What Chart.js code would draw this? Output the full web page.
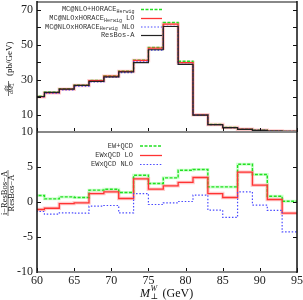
<!DOCTYPE html>
<html><head><meta charset="utf-8">
<script src="https://cdn.jsdelivr.net/npm/chart.js@4/dist/chart.umd.min.js"></script>
<style>html,body{margin:0;padding:0;background:#fff;overflow:hidden}#wrap{position:relative;width:303px;height:300px}</style>
</head><body><div id="wrap"><canvas id="c" width="303" height="300"></canvas></div>
<script>
// ---- data ----
const binEdges = [59,61,63,65,67,69,71,73,75,77,79,81,83,85,87,89,91,93,95];
const xTicks = [60,65,70,75,80,85,90,95];
const topTicks = [10,20,30,40,50,60,70];
const ratioTicks = [-10,-5,0,5,10];

const seriesNames = ['MC@NLO+HORACE', 'MC@NLOxHORACE', 'MC@NLOxHORACE', 'ResBos-A'];
const seriesSuffix = ['', ' LO', ' NLO', ''];
const ratioNames = ['EW+QCD', 'EWxQCD LO', 'EWxQCD NLO'];

const resbosA  = [20.3, 22.6, 24.5, 26.6, 28.9, 31.5, 34.4, 39.6, 47.0, 60.3, 38.7, 9.7, 4.20, 2.50, 1.50, 0.95, 0.55, 0.35];
const nloPlus  = [20.5, 22.8, 24.7, 26.8, 29.4, 32.1, 34.8, 41.1, 48.3, 62.6, 40.4, 9.9, 4.30, 2.55, 1.60, 1.00, 0.56, 0.35];
const nloTimesLO  = [20.1, 22.4, 24.5, 26.6, 29.3, 31.9, 34.6, 40.9, 47.9, 61.7, 39.7, 9.8, 4.25, 2.52, 1.57, 0.97, 0.55, 0.34];
const nloTimesNLO = [20.0, 22.2, 24.1, 26.2, 28.7, 31.3, 33.9, 40.1, 46.8, 60.4, 38.6, 9.7, 4.15, 2.45, 1.52, 0.94, 0.54, 0.33];

const ratioEWplusQCD = [0.93, 0.45, 0.73, 0.64, 1.69, 1.83, 1.35, 3.83, 2.64, 3.45, 4.54, 4.64, 2.16, 2.16, 5.40, 3.93, 0.83, 0.11];
const ratioEWxQCDLO  = [-1.07, -0.89, -0.22, -0.12, 1.21, 1.45, 0.50, 3.31, 1.83, 2.31, 2.79, 3.50, 1.21, 0.64, 4.26, 2.40, 0.36, -1.60];
const ratioEWxQCDNLO = [-1.36, -1.74, -1.55, -1.60, -0.60, -0.50, -1.55, 1.21, -0.36, -0.12, 0.07, 0.98, -1.17, -2.21, 1.45, -0.45, -1.21, -4.27];

// ---- styles ----
const GREEN = '#22e022', RED = '#ff3333', BLUE = '#4a4aff', BLACK = '#222222';
const SERIF = '"Liberation Serif", "DejaVu Serif", serif';
const MONO = '"Liberation Mono", "DejaVu Sans Mono", monospace';

function steps(vals){
  const pts = vals.map((v,i)=>({x: binEdges[i], y: v}));
  pts.push({x: binEdges[binEdges.length-1], y: vals[vals.length-1]});
  return pts;
}
function ds(vals, axis, color, width, dash){
  return {data: steps(vals), yAxisID: axis, borderColor: color, borderWidth: width,
    borderDash: dash || [], stepped: 'before', pointRadius: 0, fill: false, tension: 0};
}

const datasets = [
  ds(resbosA, 'yt', BLACK, 1.2),
  ds(nloTimesNLO, 'yt', BLUE, 1.2, [1.5, 1.8]),
  ds(nloTimesLO, 'yt', RED, 1.3),
  ds(nloPlus, 'yt', GREEN, 1.4, [3, 1.5]),
  ds(ratioEWxQCDNLO, 'yr', BLUE, 1.2, [1.5, 1.8]),
  ds(ratioEWxQCDLO, 'yr', RED, 1.3),
  ds(ratioEWplusQCD, 'yr', GREEN, 1.4, [3, 1.5]),
  ds(ratioEWxQCDLO, 'yr', 'rgba(255,110,110,0.35)', 3.5),
  ds(ratioEWplusQCD, 'yr', 'rgba(120,255,120,0.35)', 3),
  ds(nloTimesLO, 'yt', 'rgba(255,110,110,0.35)', 3.5)
];

const framePlugin = {
  id: 'frame',
  afterDraw(chart){
    const ctx = chart.ctx, x = chart.scales.x, yt = chart.scales.yt, yr = chart.scales.yr;
    const L = chart.chartArea.left, R = chart.chartArea.right;
    const T = yt.top, M = yt.bottom, B = yr.bottom;
    ctx.save();
    // ticks
    ctx.strokeStyle = '#111'; ctx.lineWidth = 1;
    ctx.beginPath();
    xTicks.forEach(v => {
      const px = Math.round(x.getPixelForValue(v)) + 0.5;
      ctx.moveTo(px, M); ctx.lineTo(px, M - 4);
      ctx.moveTo(px, B); ctx.lineTo(px, B - 4);
    });
    topTicks.forEach(v => {
      const py = Math.round(yt.getPixelForValue(v)) + 0.5;
      ctx.moveTo(L, py); ctx.lineTo(L + 4, py);
      ctx.moveTo(R, py); ctx.lineTo(R - 4, py);
    });
    ratioTicks.forEach(v => {
      const py = Math.round(yr.getPixelForValue(v)) + 0.5;
      ctx.moveTo(L, py); ctx.lineTo(L + 4, py);
      ctx.moveTo(R, py); ctx.lineTo(R - 4, py);
    });
    ctx.stroke();
    // frame
    ctx.strokeStyle = '#888'; ctx.lineWidth = 2;
    ctx.beginPath();
    ctx.moveTo(L, T); ctx.lineTo(R, T);
    ctx.moveTo(L, M); ctx.lineTo(R, M);
    ctx.moveTo(L, B); ctx.lineTo(R, B);
    ctx.stroke();
    ctx.strokeStyle = '#111'; ctx.lineWidth = 1.5;
    ctx.beginPath();
    ctx.moveTo(L, T - 1); ctx.lineTo(L, B + 1);
    ctx.moveTo(R, T - 1); ctx.lineTo(R, B + 1);
    ctx.stroke();

    // legends
    ctx.textBaseline = 'middle';
    ctx.fillStyle = '#333';
    function rich(parts, xr, y){
      let total = 0;
      parts.forEach(p => { ctx.font = (p.sub ? '5px ' : '7px ') + MONO; p.w = ctx.measureText(p.t).width; total += p.w; });
      let xx = xr - total;
      parts.forEach(p => { ctx.font = (p.sub ? '5px ' : '7px ') + MONO; ctx.fillText(p.t, xx, y + (p.sub ? 1.8 : 0)); xx += p.w; });
    }
    function sample(color, width, dash, y, x0, x1){
      ctx.save(); ctx.strokeStyle = color; ctx.lineWidth = width; ctx.setLineDash(dash);
      ctx.beginPath(); ctx.moveTo(x0, y); ctx.lineTo(x1, y); ctx.stroke(); ctx.restore();
    }
    const topStyles = [[GREEN, 1.4, [3, 1.5]], [RED, 1.3, []], [BLUE, 1.2, [1.5, 1.8]], [BLACK, 1.2, []]];
    const topRows = [9.5, 18.5, 27, 35.5];
    seriesNames.forEach((n, i) => {
      const parts = [{t: n}];
      if (i < 3) parts.push({t: 'Herwig', sub: true});
      if (seriesSuffix[i]) parts.push({t: seriesSuffix[i]});
      rich(parts, 134.5, topRows[i]);
      sample(topStyles[i][0], topStyles[i][1], topStyles[i][2], topRows[i], 141, 162);
    });
    const botRows = [146, 155.5, 164.5];
    ratioNames.forEach((n, i) => {
      rich([{t: n}], 133, botRows[i]);
      sample(topStyles[i][0], topStyles[i][1], topStyles[i][2], botRows[i], 140, 162);
    });

    // x title
    ctx.fillStyle = '#111';
    ctx.textBaseline = 'alphabetic';
    let xx = 140, by = 297;
    ctx.font = 'italic 12px ' + SERIF; ctx.fillText('M', xx, by); xx += ctx.measureText('M').width + 0.5;
    ctx.font = 'italic 8px ' + SERIF; ctx.fillText('W', xx, by - 6);
    ctx.font = '8px ' + SERIF; ctx.fillText('\u22A5', xx, by + 2);
    xx += 9;
    ctx.font = '12px ' + SERIF; ctx.fillText(' (GeV)', xx, by);

    // top y title
    ctx.save();
    ctx.translate(9, 97); ctx.rotate(-Math.PI / 2);
    ctx.textBaseline = 'middle'; ctx.textAlign = 'center';
    ctx.font = 'italic 6px ' + SERIF; ctx.fillText('d\u03C3', 8.5, -2.8);
    ctx.fillText('dM', 7, 2.8);
    ctx.font = 'italic 4px ' + SERIF; ctx.fillText('W', 12.2, 1.2); ctx.fillText('\u22A5', 12.2, 4.2);
    ctx.lineWidth = 0.6; ctx.strokeStyle = '#111';
    ctx.beginPath(); ctx.moveTo(1, -0.5); ctx.lineTo(16, -0.5); ctx.stroke();
    ctx.textAlign = 'left';
    ctx.font = '9px ' + SERIF; ctx.fillText('(pb/GeV)', 21, 0.5);
    ctx.restore();

    // ratio y title
    ctx.save();
    ctx.translate(8, 193); ctx.rotate(-Math.PI / 2);
    ctx.textBaseline = 'middle'; ctx.textAlign = 'center';
    ctx.font = '8.5px ' + SERIF;
    ctx.fillText('i\u2212ResBos\u2212A', 0, -3.6);
    ctx.fillText('ResBos\u2212A', 0, 3.8);
    ctx.lineWidth = 0.6; ctx.strokeStyle = '#111';
    ctx.beginPath(); ctx.moveTo(-23, 0); ctx.lineTo(23, 0); ctx.stroke();
    ctx.restore();

    ctx.restore();
  }
};

new Chart(document.getElementById('c'), {
  type: 'line',
  data: {datasets},
  options: {
    responsive: false, animation: false, devicePixelRatio: 1,
    layout: {padding: {left: 0, right: 6, top: 2, bottom: 0}},
    plugins: {legend: {display: false}, tooltip: {enabled: false}},
    scales: {
      x: {type: 'linear', min: 60, max: 95,
        afterBuildTicks: s => { s.ticks = xTicks.map(v => ({value: v})); },
        ticks: {font: {family: SERIF, size: 12}, color: '#222', padding: 2, maxRotation: 0, autoSkip: false},
        grid: {display: false, drawTicks: false}, border: {display: false},
        afterFit: s => { s.height = 28; s.paddingLeft = 0; s.paddingRight = 0; }},
      yr: {type: 'linear', position: 'left', stack: 'panels', stackWeight: 140, min: -10, max: 10,
        afterBuildTicks: s => { s.ticks = ratioTicks.map(v => ({value: v})); },
        ticks: {font: {family: SERIF, size: 12}, color: '#222', padding: 4},
        grid: {display: false, drawTicks: false}, border: {display: false},
        afterFit: s => { s.width = 37; s.paddingTop = 0; s.paddingBottom = 0; }},
      yt: {type: 'linear', position: 'left', stack: 'panels', stackWeight: 130, min: 0, max: 74.3,
        afterBuildTicks: s => { s.ticks = topTicks.map(v => ({value: v})); },
        ticks: {font: {family: SERIF, size: 12}, color: '#222', padding: 4},
        grid: {display: false, drawTicks: false}, border: {display: false},
        afterFit: s => { s.width = 37; s.paddingTop = 0; s.paddingBottom = 0; }}
    }
  },
  plugins: [framePlugin]
});
</script></body></html>
